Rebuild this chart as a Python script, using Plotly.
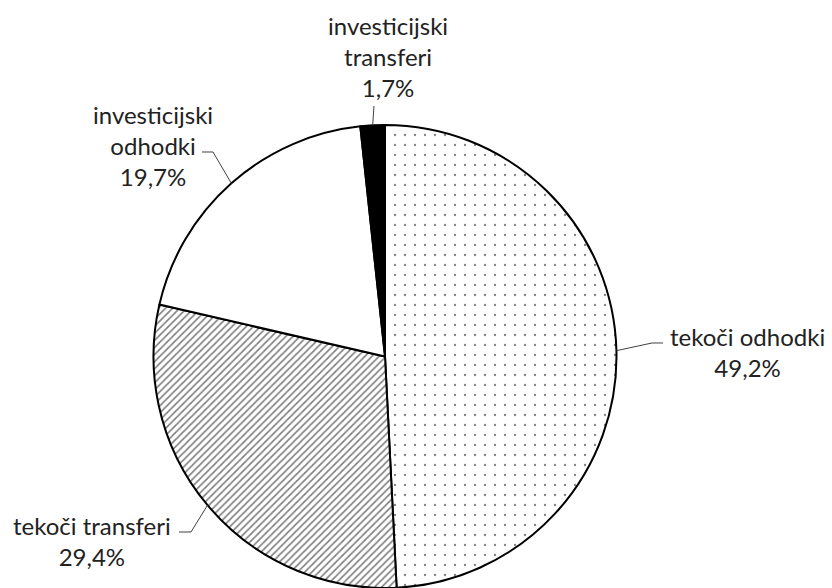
import math
import plotly.graph_objects as go

# ---- data ----
labels = ["tekoči odhodki", "tekoči transferi", "investicijski odhodki", "investicijski transferi"]
values = [49.2, 29.4, 19.7, 1.7]
label_lines = [["tekoči odhodki", "49,2%"],
               ["tekoči transferi", "29,4%"],
               ["investicijski", "odhodki", "19,7%"],
               ["investicijski", "transferi", "1,7%"]]

# ---- layout constants (pixels) ----
W, H = 832, 588
R = 231.5
CX, CY = 385.0, H - R  # pie centre (px, from top)

fill_colors = ["white", "white", "white", "black"]
pattern_shapes = [".", "/", "", ""]

fig = go.Figure(go.Pie(
    labels=labels,
    values=values,
    sort=False,
    direction="clockwise",
    rotation=0,
    textinfo="none",
    hoverinfo="label+percent",
    showlegend=False,
    marker=dict(
        colors=fill_colors,
        line=dict(color="black", width=2),
        pattern=dict(shape=pattern_shapes, fgcolor="black", bgcolor="white",
                     size=[10, 5, 8, 8], solidity=[0.04, 0.33, 0.2, 0.2],
                     fillmode="overlay"),
    ),
    domain=dict(x=[(CX - R) / W, (CX + R) / W], y=[0, 2 * R / H]),
))

def px2paper(x, y):
    return x / W, 1 - y / H

# leader line geometry: start at slice mid-angle on pie edge
total = sum(values)
cum = 0.0
mids = []
for v in values:
    mids.append((cum + v / 2) / total * 2 * math.pi)
    cum += v

# elbow / text positions (px)
elbows = [[(652, 343), (663, 343)],
          [(191, 532), (179, 532)],
          [(213, 152), (202, 152)],
          [(374, 106)]]
text_pos = [(747, 352), (92, 541), (153, 146), (388, 57)]

shapes = []
for ang, pts in zip(mids, elbows):
    sx = CX + R * math.sin(ang)
    sy = CY - R * math.cos(ang)
    path_pts = [(sx, sy)] + pts
    d = ""
    for i, (x, y) in enumerate(path_pts):
        px, py = px2paper(x, y)
        d += ("M" if i == 0 else " L") + f" {px:.5f} {py:.5f}"
    shapes.append(dict(type="path", path=d, xref="paper", yref="paper",
                       line=dict(color="#404040", width=1)))

annotations = []
for lines, (tx, ty) in zip(label_lines, text_pos):
    px, py = px2paper(tx, ty)
    annotations.append(dict(text="<br>".join(lines), x=px, y=py, xref="paper", yref="paper",
                            xanchor="center", yanchor="middle", showarrow=False, align="center",
                            font=dict(family="Lato, Calibri, sans-serif", size=24, color="#222222")))

fig.update_layout(
    width=W, height=H,
    margin=dict(l=0, r=0, t=0, b=0),
    paper_bgcolor="white",
    plot_bgcolor="white",
    shapes=shapes,
    annotations=annotations,
)

fig.write_html("out.html",
               config={"displayModeBar": False},
               post_script="document.body.style.margin='0px';document.body.style.overflow='hidden';")
